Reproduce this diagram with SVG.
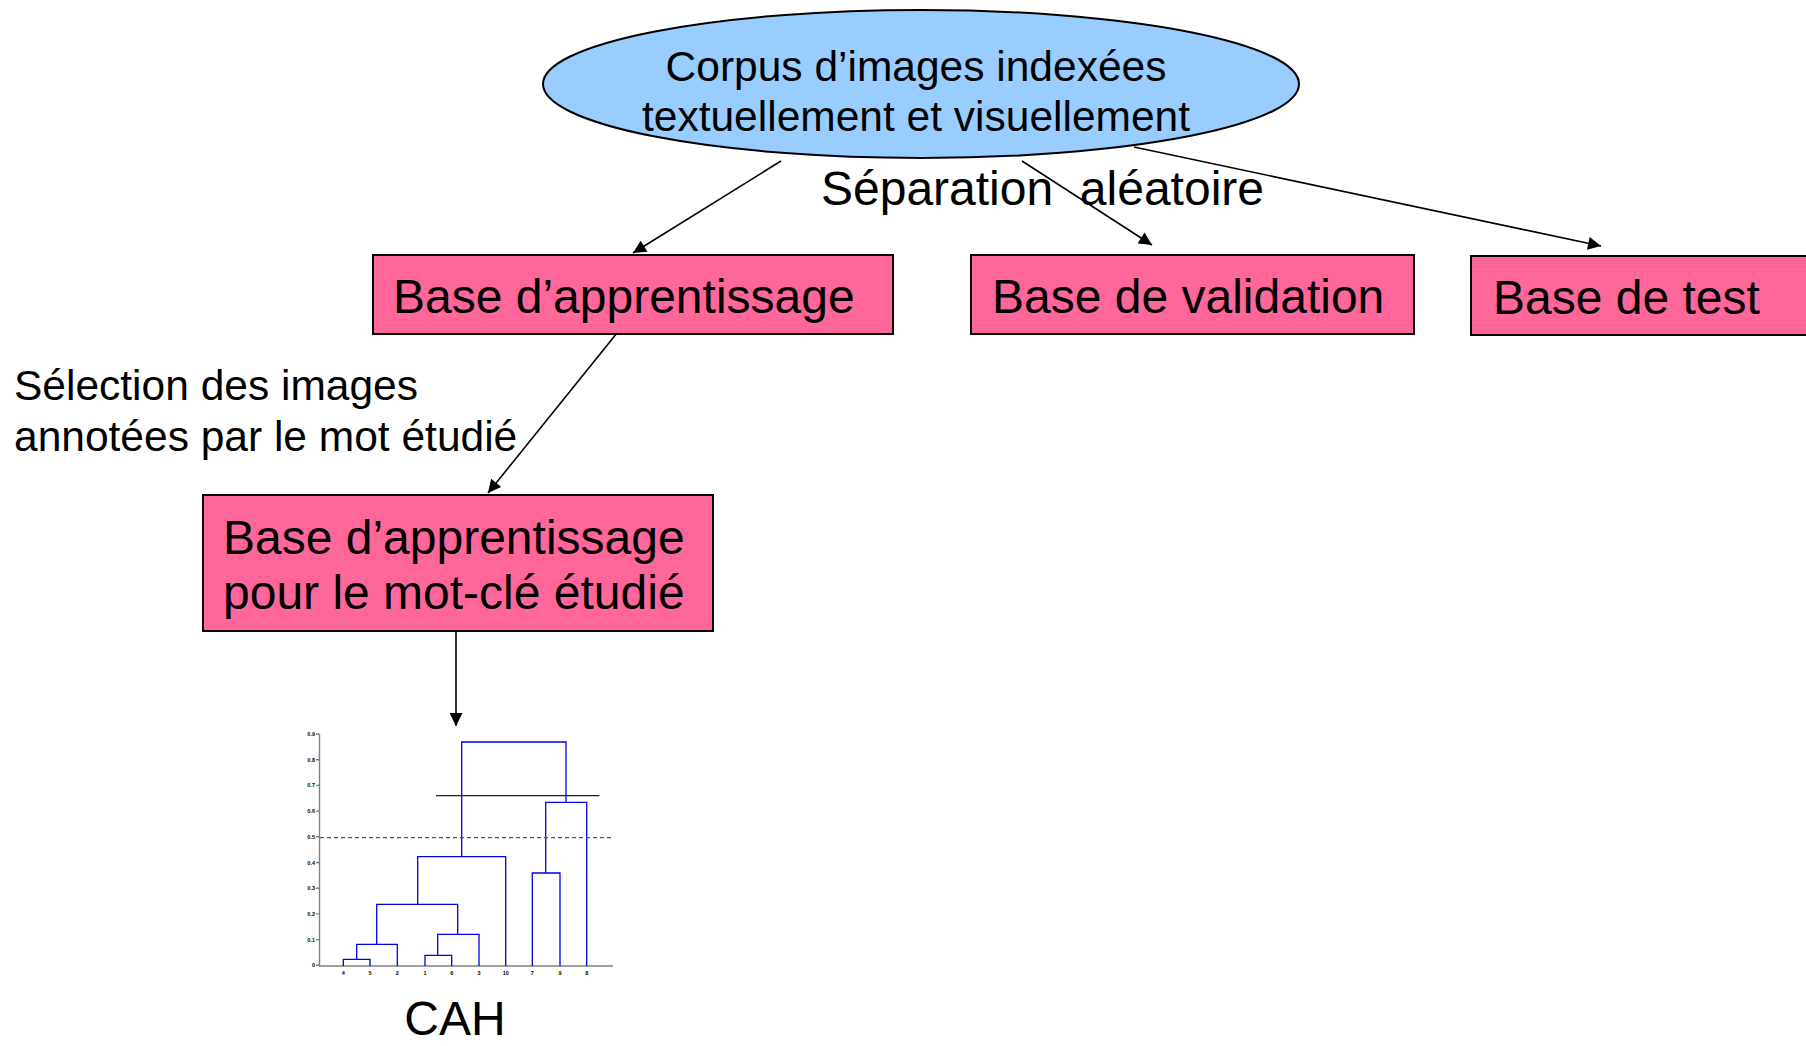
<svg xmlns="http://www.w3.org/2000/svg" width="1806" height="1046" viewBox="0 0 1806 1046">
<style>
.t{font-family:"Liberation Sans",Arial,sans-serif;fill:#000}
.box{fill:#FF6699;stroke:#000;stroke-width:2}
.con{stroke:#000;stroke-width:1.6;fill:none}
.den{stroke:#0000EE;stroke-width:1.3;fill:none}
.ax{stroke:#808080;stroke-width:1.4;fill:none}
.tk{font-family:"Liberation Sans",Arial,sans-serif;font-size:5.5px;font-weight:bold;fill:#000}
</style>
<defs>
<marker id="ahb" viewBox="0 0 10 10" refX="10" refY="5" markerWidth="14" markerHeight="13" markerUnits="userSpaceOnUse" orient="auto">
<path d="M0,0 L10,5 L0,10 z" fill="#000"/>
</marker>
</defs>
<rect width="1806" height="1046" fill="#fff"/>

<g id="corpus">
<ellipse cx="921" cy="84" rx="378" ry="74" fill="#99CCFF" stroke="#000" stroke-width="2"/>
<text class="t" x="916" y="81" font-size="42.5" text-anchor="middle">Corpus d’images indexées</text>
<text class="t" x="916" y="131" font-size="42.5" text-anchor="middle">textuellement et visuellement</text>
</g>

<g id="base-apprentissage">
<rect class="box" x="373" y="255" width="520" height="79"/>
<text class="t" x="393" y="313" font-size="48">Base d’apprentissage</text>
</g>

<g id="base-validation">
<rect class="box" x="971" y="255" width="443" height="79"/>
<text class="t" x="992" y="313" font-size="48">Base de validation</text>
</g>

<g id="base-test">
<rect class="box" x="1471" y="256" width="345" height="79"/>
<text class="t" x="1493" y="314" font-size="48">Base de test</text>
</g>

<g id="base-mot-cle">
<rect class="box" x="203" y="495" width="510" height="136"/>
<text class="t" x="223" y="554" font-size="48">Base d’apprentissage</text>
<text class="t" x="223" y="609" font-size="48">pour le mot-clé étudié</text>
</g>

<g id="labels">
<text class="t" x="821" y="205" font-size="48" xml:space="preserve">Séparation  aléatoire</text>
<text class="t" x="14" y="400" font-size="42.5">Sélection des images</text>
<text class="t" x="14" y="451" font-size="42.5">annotées par le mot étudié</text>
</g>

<g id="connectors">
<line class="con" x1="781" y1="161" x2="633" y2="253" marker-end="url(#ahb)"/>
<line class="con" x1="1022" y1="161" x2="1152" y2="245" marker-end="url(#ahb)"/>
<line class="con" x1="1134" y1="147" x2="1601" y2="246" marker-end="url(#ahb)"/>
<line class="con" x1="617" y1="333" x2="488" y2="493" marker-end="url(#ahb)"/>
<line class="con" x1="456" y1="631" x2="456" y2="726" marker-end="url(#ahb)"/>
</g>

<g id="cah">
<path class="ax" d="M319.5,734 V966 H613"/>
<path class="ax" d="M316,734H319.5M316,759.7H319.5M316,785.4H319.5M316,811.1H319.5M316,836.8H319.5M316,862.5H319.5M316,888.2H319.5M316,913.9H319.5M316,939.6H319.5M316,965.3H319.5"/>
<g text-anchor="end">
<text class="tk" x="315" y="736">0.9</text>
<text class="tk" x="315" y="761.7">0.8</text>
<text class="tk" x="315" y="787.4">0.7</text>
<text class="tk" x="315" y="813.1">0.6</text>
<text class="tk" x="315" y="838.8">0.5</text>
<text class="tk" x="315" y="864.5">0.4</text>
<text class="tk" x="315" y="890.2">0.3</text>
<text class="tk" x="315" y="915.9">0.2</text>
<text class="tk" x="315" y="941.6">0.1</text>
<text class="tk" x="315" y="967.3">0</text>
</g>
<g text-anchor="middle">
<text class="tk" x="343.3" y="975">4</text>
<text class="tk" x="370" y="975">5</text>
<text class="tk" x="397.3" y="975">2</text>
<text class="tk" x="425" y="975">1</text>
<text class="tk" x="451.7" y="975">6</text>
<text class="tk" x="479" y="975">3</text>
<text class="tk" x="505.7" y="975">10</text>
<text class="tk" x="532.3" y="975">7</text>
<text class="tk" x="560" y="975">9</text>
<text class="tk" x="586.7" y="975">8</text>
</g>
<path class="den" d="M343.3,966V959.3H370V966 M356.7,959.3V944.3H397.3V966 M425,966V955.3H451.7V966 M437.7,955.3V934.3H479V966 M376.7,944.3V904.3H457.7V934.3 M417.7,904.3V856.7H505.7V966 M532.3,966V873H560V966 M545.7,873V802.3H586.7V966 M461.7,856.7V742H566V802.3"/>
<line x1="436" y1="795.7" x2="599.3" y2="795.7" stroke="#222" stroke-width="1.3"/>
<line x1="320" y1="837.7" x2="613" y2="837.7" stroke="#555" stroke-width="1.3" stroke-dasharray="4,3"/>
<text class="t" x="455" y="1035" font-size="48" text-anchor="middle">CAH</text>
</g>
</svg>
